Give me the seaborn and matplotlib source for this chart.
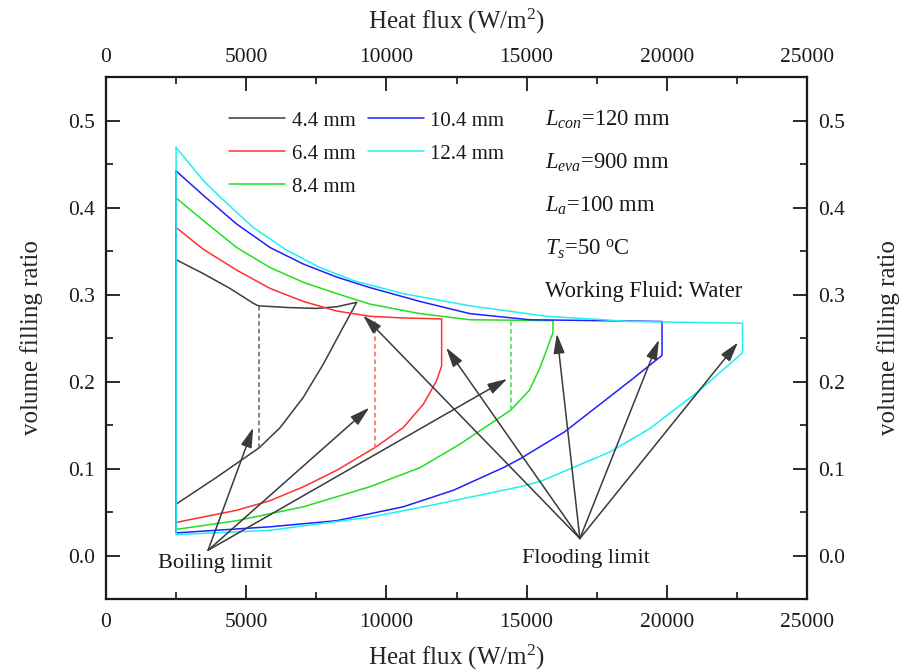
import numpy as np
import pandas as pd
import matplotlib
matplotlib.use("Agg")
import matplotlib.pyplot as plt
from matplotlib.ticker import MultipleLocator, FormatStrFormatter
import seaborn as sns

# ---- data: operating envelopes for each evaporator diameter ----
diameters = ["4.4 mm", "6.4 mm", "8.4 mm", "10.4 mm", "12.4 mm"]
colors = ["#3c3c3c", "#ff3030", "#20e020", "#2020ff", "#20f0f0"]

# upper branch (flooding side) and lower branch (boiling side), heat flux in W/m2
up_x_44 = [2500, 3470, 4420, 5250, 5430, 6500, 7510, 8240, 8940]
up_y_44 = [0.340, 0.324, 0.307, 0.290, 0.287, 0.285, 0.284, 0.286, 0.291]
lo_x_44 = [2500, 3950, 5470, 6210, 7040, 7750, 8400, 8940]
lo_y_44 = [0.059, 0.090, 0.124, 0.147, 0.182, 0.220, 0.259, 0.291]

up_x_64 = [2500, 3470, 4660, 5850, 7040, 8230, 9410, 10600, 11970]
up_y_64 = [0.377, 0.352, 0.328, 0.307, 0.292, 0.281, 0.275, 0.273, 0.272]
lo_x_64 = [2500, 4660, 5850, 7040, 8230, 9590, 10600, 11320, 11790, 11970]
lo_y_64 = [0.038, 0.052, 0.063, 0.079, 0.098, 0.124, 0.147, 0.174, 0.201, 0.218]

up_x_84 = [2500, 3470, 4660, 5850, 7040, 8230, 9410, 11200, 12980, 15940]
up_y_84 = [0.411, 0.385, 0.354, 0.331, 0.314, 0.301, 0.289, 0.278, 0.271, 0.270]
lo_x_84 = [2500, 4660, 7040, 9410, 11200, 12620, 13690, 14430, 15100, 15480, 15940]
lo_y_84 = [0.030, 0.040, 0.056, 0.079, 0.101, 0.128, 0.151, 0.167, 0.190, 0.216, 0.256]

up_x_104 = [2500, 3470, 4660, 5850, 7040, 8230, 9410, 11200, 12980, 15100, 19830]
up_y_104 = [0.442, 0.414, 0.381, 0.354, 0.335, 0.320, 0.308, 0.292, 0.278, 0.271, 0.269]
lo_x_104 = [2500, 5850, 8230, 10600, 12390, 14170, 14760, 16350, 18700, 19830]
lo_y_104 = [0.026, 0.033, 0.040, 0.056, 0.075, 0.101, 0.111, 0.142, 0.201, 0.230]

up_x_124 = [2500, 3470, 4070, 5250, 6440, 7630, 8820, 10600, 12980, 15700, 18700, 22700]
up_y_124 = [0.469, 0.431, 0.412, 0.377, 0.351, 0.331, 0.316, 0.301, 0.287, 0.275, 0.269, 0.267]
lo_x_124 = [2500, 5850, 9410, 11790, 14760, 15480, 17970, 19400, 21100, 22700]
lo_y_124 = [0.024, 0.029, 0.044, 0.059, 0.079, 0.085, 0.119, 0.146, 0.188, 0.233]

branches = [
    (up_x_44, up_y_44, lo_x_44, lo_y_44),
    (up_x_64, up_y_64, lo_x_64, lo_y_64),
    (up_x_84, up_y_84, lo_x_84, lo_y_84),
    (up_x_104, up_y_104, lo_x_104, lo_y_104),
    (up_x_124, up_y_124, lo_x_124, lo_y_124),
]

# boiling-limit markers (dashed verticals) for the three smallest diameters
boil_x = [5470, 9590, 14430]
boil_lo = [0.124, 0.124, 0.167]
boil_hi = [0.287, 0.275, 0.270]
boil_colors = ["#606060", "#ff6060", "#40e040"]

# arrows: common tail and heads
boil_tail = (3640, 0.006)
boil_heads = [(5250, 0.147), (9390, 0.170), (14310, 0.203)]
flood_tail = (16900, 0.0195)
flood_heads = [(9170, 0.276), (12130, 0.239), (16080, 0.255), (19720, 0.248), (22540, 0.245)]

x_ticks = [0, 5000, 10000, 15000, 20000, 25000]
y_ticks = [0.0, 0.1, 0.2, 0.3, 0.4, 0.5]

# ---- style ----
sns.set_theme(style="ticks")
plt.rcParams["font.family"] = ["Liberation Serif", "DejaVu Serif"]
plt.rcParams["mathtext.fontset"] = "custom"
plt.rcParams["mathtext.rm"] = "Liberation Serif"
plt.rcParams["mathtext.it"] = "Liberation Serif:italic"
plt.rcParams["mathtext.bf"] = "Liberation Serif:bold"
plt.rcParams["text.color"] = "#1a1a1a"

fig = plt.figure(figsize=(9.04, 6.71), dpi=100)
ax = fig.add_axes([0.11726, 0.10730, 0.77544, 0.77794])

# closed envelope per diameter: upper branch out, drop at flooding, lower branch back
for name, col, (ux, uy, lx, ly) in zip(diameters, colors, branches):
    xs = list(ux) + list(lx[::-1]) + [ux[0]]
    ys = list(uy) + list(ly[::-1]) + [uy[0]]
    df = pd.DataFrame({"flux": xs, "ratio": ys})
    sns.lineplot(data=df, x="flux", y="ratio", sort=False, estimator=None,
                 color=col, lw=1.1, label=name, ax=ax)

for bx, blo, bhi, bc in zip(boil_x, boil_lo, boil_hi, boil_colors):
    ax.plot([bx, bx], [blo, bhi], color=bc, lw=1.1, linestyle=(0, (3, 2)))

arrow_kw = dict(arrowstyle="-|>,head_length=0.6,head_width=0.17", color="#3a3a3a",
                lw=1.1, shrinkA=0, shrinkB=0, mutation_scale=20)
for h in boil_heads:
    ax.annotate("", xy=h, xytext=boil_tail, arrowprops=arrow_kw)
for h in flood_heads:
    ax.annotate("", xy=h, xytext=flood_tail, arrowprops=arrow_kw)

ax.text(3890, -0.014, "Boiling limit", fontsize=16, ha="center", va="baseline")
ax.text(17100, -0.009, "Flooding limit", fontsize=16, ha="center", va="baseline")

# parameter notes
notes = [r"$L_{con}$=120 mm", r"$L_{eva}$=900 mm", r"$L_{a}$=100 mm",
         r"$T_{s}$=50 $^{\rm o}$C", "Working Fluid: Water"]
note_y = [0.494, 0.445, 0.395, 0.345, 0.297]
for t, yy in zip(notes, note_y):
    ax.text(15660, yy, t, fontsize=16.3, ha="left", va="baseline")

# axes limits and ticks
xlim = (0, 25000)
ylim = (-0.05, 0.55)
ax.set_xlim(*xlim)
ax.set_ylim(*ylim)
ax.set_xticks(x_ticks)
ax.set_yticks(y_ticks)
ax.xaxis.set_minor_locator(MultipleLocator(2500))
ax.yaxis.set_minor_locator(MultipleLocator(0.05))
ax.yaxis.set_major_formatter(FormatStrFormatter("%.1f"))
ax.set_xlabel(r"Heat flux (W/m$^2$)", fontsize=18, labelpad=8)
ax.set_ylabel("volume filling ratio", fontsize=18, labelpad=18)

ax_top = ax.twiny()
ax_top.set_xlim(*xlim)
ax_top.set_xticks(x_ticks)
ax_top.xaxis.set_minor_locator(MultipleLocator(2500))
ax_top.set_xlabel(r"Heat flux (W/m$^2$)", fontsize=18, labelpad=14)

ax_right = ax.twinx()
ax_right.set_ylim(*ylim)
ax_right.set_yticks(y_ticks)
ax_right.yaxis.set_minor_locator(MultipleLocator(0.05))
ax_right.yaxis.set_major_formatter(FormatStrFormatter("%.1f"))
ax_right.set_ylabel("volume filling ratio", fontsize=18, labelpad=23)

for a in (ax, ax_top, ax_right):
    a.tick_params(which="major", direction="in", length=10, width=1.3,
                  labelsize=15.5, pad=8, colors="#1a1a1a")
    a.tick_params(which="minor", direction="in", length=5, width=1.3)
    for s in a.spines.values():
        s.set_linewidth(1.5)
        s.set_color("#1a1a1a")
ax.tick_params(top=False, right=False, which="both")
ax.tick_params(axis="x", pad=10)
ax_top.tick_params(axis="x", pad=7)

ax.legend(ncol=2, loc="upper left", bbox_to_anchor=(0.1755, 0.935), frameon=False,
          fontsize=15, handlelength=2.7, handletextpad=0.3, columnspacing=0.6,
          labelspacing=0.65, borderpad=0, borderaxespad=0)

fig.savefig("out.png", dpi=100)
